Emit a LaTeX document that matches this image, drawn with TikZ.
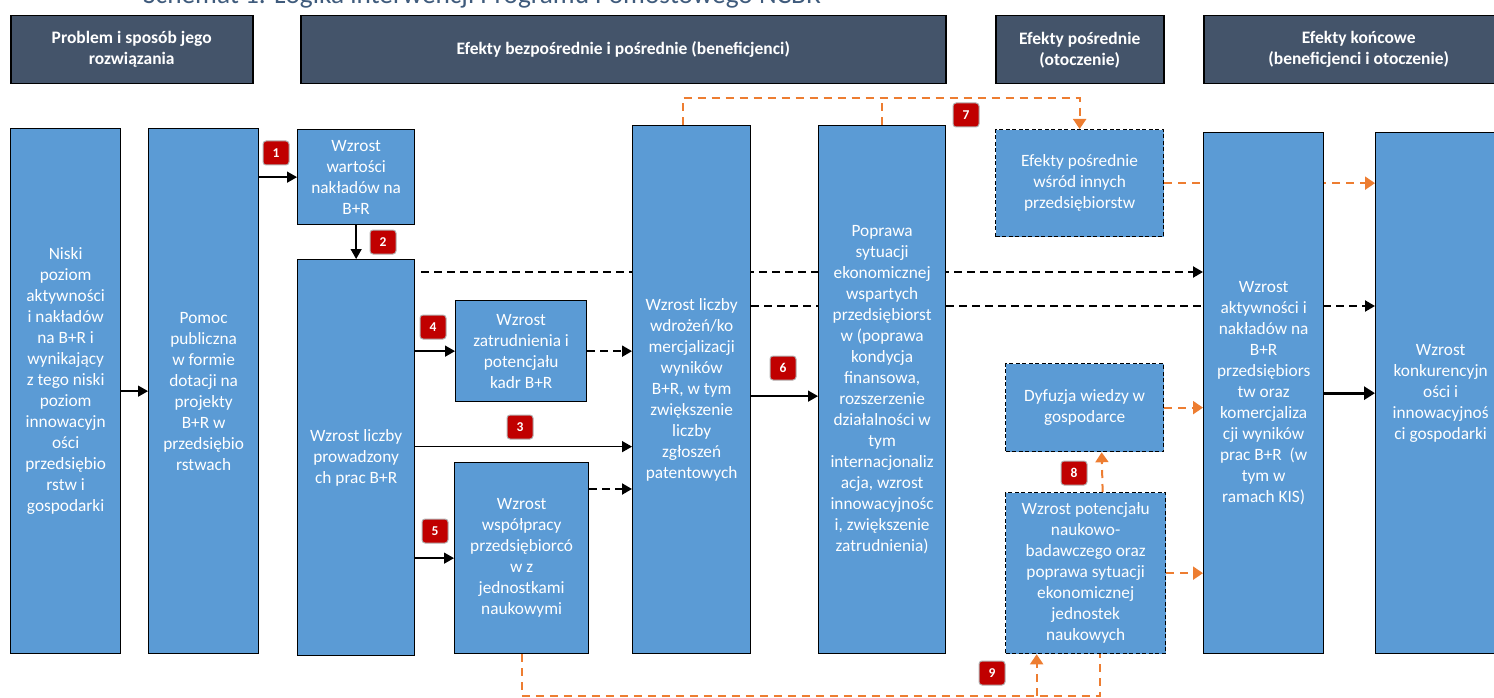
\documentclass[tikz,border=0pt]{standalone}
\usepackage{fontspec}
\setmainfont{Carlito}
\usetikzlibrary{arrows.meta,calc}
\definecolor{boxblue}{HTML}{5B9BD5}
\definecolor{hdrcol}{HTML}{44546A}
\definecolor{orangec}{HTML}{ED7D31}
\definecolor{redlbl}{HTML}{C00000}
\definecolor{titlecol}{HTML}{3F5B7C}
\pgfdeclarelayer{bg}
\pgfsetlayers{bg,main}
\begin{document}
\begin{tikzpicture}[x=1pt,y=-1pt,
  box/.style={draw=black, line width=1.3pt, fill=boxblue, text=white, align=center,
    inner sep=0pt, anchor=north west, font=\fontsize{17.3}{21}\selectfont},
  dbox/.style={box, dash pattern=on 4pt off 2.5pt},
  boxtxt/.style={text=white, align=center, inner sep=0pt, font=\fontsize{17.3}{21}\selectfont},
  hdr/.style={draw=black, line width=1.5pt, fill=hdrcol, text=white, align=center,
    inner sep=0pt, anchor=north west, minimum height=68pt, font=\bfseries\fontsize{17.5}{21}\selectfont},
  num/.style={draw=gray!60, line width=1pt, fill=redlbl, text=white, rounded corners=3pt,
    minimum width=26pt, minimum height=24pt, inner sep=0pt, font=\bfseries\fontsize{13.5}{13.5}\selectfont},
  conn/.style={draw=black, line width=1.4pt, -{Triangle[length=10pt,width=11pt]}},
  thickconn/.style={draw=black, line width=3pt, -{Triangle[length=11pt,width=13pt]}},
  dconn/.style={draw=black, line width=2pt, dash pattern=on 8pt off 5pt, -{Triangle[length=10pt,width=11pt]}},
  oline/.style={draw=orangec, line width=2pt, dash pattern=on 8pt off 6pt},
  oconn/.style={oline, -{Triangle[length=10pt,width=13pt]}}
]
\useasboundingbox (0,0) rectangle (1494,698);

% title (partly cut at the top)
\node[anchor=base west, text=titlecol, inner sep=0pt, font=\fontsize{27.3}{31}\selectfont] (title) at (143,4)
  {Schemat 1. Logika interwencji Programu Pomostowego NCBR};

% headers
\node[hdr, minimum width=242pt] (h1) at (10,15) {Problem i sposób jego\\rozwiązania};
\node[hdr, minimum width=645pt] (h2) at (300,15) {Efekty bezpośrednie i pośrednie (beneficjenci)};
\node[hdr, minimum width=168pt] (h3) at (995,15) {Efekty pośrednie\\(otoczenie)};
\node[hdr, minimum width=310pt] (h4) at (1203,15) {Efekty końcowe\\(beneficjenci i otoczenie)};

% boxes
\node[box, minimum width=110pt, minimum height=525pt] (A) at (10,128) {};
\node[boxtxt] (Atxt) at ([yshift=10pt]A.center) {Niski\\poziom\\aktywności\\i nakładów\\na B+R i\\wynikający\\z tego niski\\poziom\\innowacyjn\\ości\\przedsiębio\\rstw i\\gospodarki};
\node[box, minimum width=110pt, minimum height=525pt] (B) at (148,128) {Pomoc\\publiczna\\w formie\\dotacji na\\projekty\\B+R w\\przedsiębio\\rstwach};
\node[box, minimum width=117pt, minimum height=95pt] (C) at (297,129) {Wzrost\\wartości\\nakładów na\\B+R};
\node[box, minimum width=117pt, minimum height=396pt] (D) at (297,259) {Wzrost liczby\\prowadzony\\ch prac B+R};
\node[box, minimum width=131pt, minimum height=101pt] (E) at (455,300) {Wzrost\\zatrudnienia i\\potencjału\\kadr B+R};
\node[box, minimum width=134pt, minimum height=191pt] (F) at (454,462) {Wzrost\\współpracy\\przedsiębiorcó\\w z\\jednostkami\\naukowymi};
\node[box, minimum width=118pt, minimum height=528pt] (G) at (632,125) {Wzrost liczby\\wdrożeń/ko\\mercjalizacji\\wyników\\B+R, w tym\\zwiększenie\\liczby\\zgłoszeń\\patentowych};
\node[box, minimum width=127pt, minimum height=528pt] (H) at (818,125) {Poprawa\\sytuacji\\ekonomicznej\\wspartych\\przedsiębiorst\\w (poprawa\\kondycja\\finansowa,\\rozszerzenie\\działalności w\\tym\\internacjonaliz\\acja, wzrost\\innowacyjnośc\\i, zwiększenie\\zatrudnienia)};
\node[dbox, minimum width=168pt, minimum height=107pt] (I) at (995,129) {Efekty pośrednie\\wśród innych\\przedsiębiorstw};
\node[dbox, minimum width=158pt, minimum height=88pt] (J) at (1005,363) {Dyfuzja wiedzy w\\gospodarce};
\node[dbox, minimum width=160pt, minimum height=161pt] (K) at (1005,492) {Wzrost potencjału\\naukowo-\\badawczego oraz\\poprawa sytuacji\\ekonomicznej\\jednostek\\naukowych};
\node[box, minimum width=120pt, minimum height=521pt] (L) at (1203,132) {Wzrost\\aktywności i\\nakładów na\\B+R\\przedsiębiors\\tw oraz\\komercjaliza\\cji wyników\\prac B+R~~(w\\tym w\\ramach KIS)};
\node[box, minimum width=130pt, minimum height=521pt] (M) at (1375,132) {Wzrost\\konkurencyjn\\ości i\\innowacyjnoś\\ci gospodarki};

% coordinates for free / offset ends
\coordinate (dstart) at ([xshift=6pt,yshift=-13pt]D.north east);
\coordinate (gstart) at ([yshift=-181pt]G.north east);
\coordinate (d3) at ([yshift=11pt]D.east);
\coordinate (g6) at ([yshift=-6.5pt]G.east);
\coordinate (fg) at ([yshift=-27pt]F.north east);
\coordinate (g7) at ([xshift=-9pt]G.north);
\coordinate (k8) at ([xshift=17pt]K.north);
\coordinate (j8) at ([xshift=17pt]J.south);
\coordinate (k9a) at ([xshift=-49pt]K.south);
\coordinate (k9b) at ([xshift=14pt]K.south);
\coordinate (top7) at (900,98);
\coordinate (bot9) at (800,696);

% connectors passing under boxes
\begin{pgfonlayer}{bg}
\draw[dconn] (dstart) -- (L.west |- dstart);
\draw[dconn] (gstart) -- (M.west |- gstart);
\draw[oconn] (I.east) -- (M.west |- I.east);
\end{pgfonlayer}

% solid connectors
\draw[conn] (A.east) -- (B.west);
\draw[conn] (B.east |- C.west) -- (C.west);
\draw[conn] (C.south) -- (D.north);
\draw[conn] (D.east |- E.west) -- (E.west);
\draw[conn] (d3) -- (G.west |- d3);
\draw[conn] (D.east |- F.west) -- (F.west);
\draw[conn] (g6) -- (H.west |- g6);
\draw[thickconn] (L.east) -- (M.west);

% dashed black connectors
\draw[dconn] (E.east) -- (G.west |- E.east);
\draw[dconn] (fg) -- (G.west |- fg);

% orange dashed connectors
\draw[oconn] (g7) |- (top7) -| (I.north);
\draw[oline] (H.north) -- (H.north |- top7);
\draw[oconn] (J.east) -- (L.west |- J.east);
\draw[oconn] (K.east) -- (L.west |- K.east);
\draw[oconn] (k8) -- (j8);
\draw[oline] (F.south) |- (bot9) -| (k9b);
\draw[oconn] (k9a |- bot9) -- (k9a);

% number labels
\node[num] (n1) at (276,153) {1};
\node[num] (n2) at (383,242) {2};
\node[num] (n3) at (520,427) {3};
\node[num] (n4) at (433,327) {4};
\node[num] (n5) at (435,531) {5};
\node[num] (n6) at (783,368) {6};
\node[num] (n7) at (966,115) {7};
\node[num] (n8) at (1074,473) {8};
\node[num] (n9) at (992,673) {9};
\end{tikzpicture}
\end{document}
